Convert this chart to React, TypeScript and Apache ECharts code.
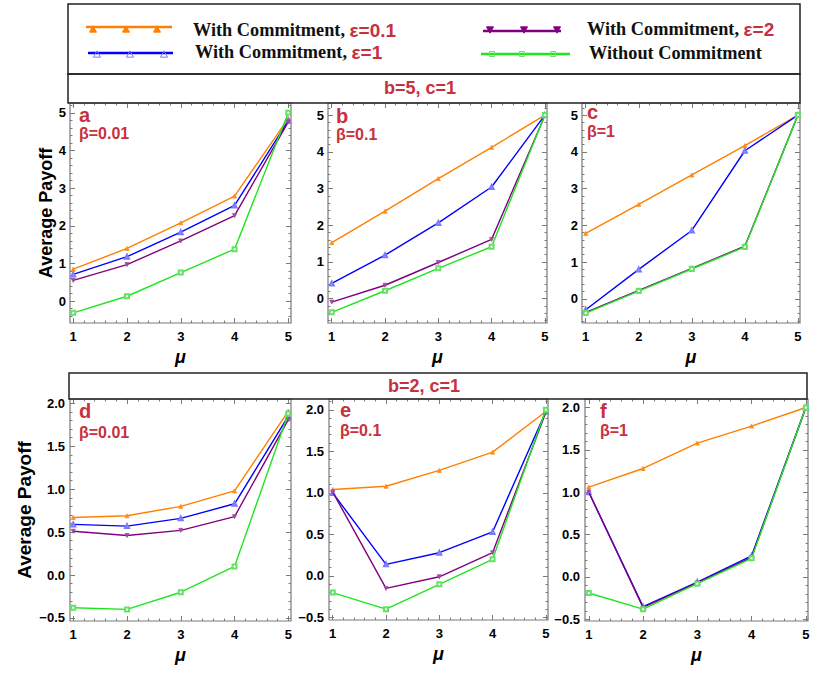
import React, { useEffect, useRef } from "react";
import * as echarts from "echarts";

// ---------- data ----------
const MU = [1, 2, 3, 4, 5];
const X_TICKS = [1, 2, 3, 4, 5];
const Y_TICKS_B5 = [0, 1, 2, 3, 4, 5];
const Y_TICKS_B2 = [-0.5, 0, 0.5, 1, 1.5, 2];

const SERIES_NAMES = [
  "With Commitment, ε=0.1",
  "With Commitment, ε=1",
  "With Commitment, ε=2",
  "Without Commitment",
];
const STRIP_LABELS = ["b=5, c=1", "b=2, c=1"];
const PANEL_LETTERS = ["a", "b", "c", "d", "e", "f"];
const PANEL_BETAS = ["β=0.01", "β=0.1", "β=1", "β=0.01", "β=0.1", "β=1"];
const Y_NAME = "Average Payoff";
const X_NAME = "μ";

// panel a (b=5, c=1, β=0.01)
const A_EPS01 = [0.85, 1.4, 2.08, 2.79, 4.85];
const A_EPS1 = [0.71, 1.18, 1.83, 2.54, 4.79];
const A_EPS2 = [0.55, 0.97, 1.6, 2.27, 4.76];
const A_NONE = [-0.31, 0.13, 0.76, 1.38, 5.0];
// panel b (b=5, c=1, β=0.1)
const B_EPS01 = [1.52, 2.38, 3.27, 4.12, 5.0];
const B_EPS1 = [0.41, 1.18, 2.06, 3.04, 5.0];
const B_EPS2 = [-0.1, 0.36, 0.98, 1.61, 4.98];
const B_NONE = [-0.38, 0.21, 0.82, 1.41, 5.0];
// panel c (b=5, c=1, β=1)
const C_EPS01 = [1.78, 2.57, 3.37, 4.17, 5.0];
const C_EPS1 = [-0.3, 0.8, 1.86, 4.03, 5.0];
const C_EPS2 = [-0.37, 0.23, 0.83, 1.43, 5.0];
const C_NONE = [-0.39, 0.21, 0.81, 1.41, 5.0];
// panel d (b=2, c=1, β=0.01)
const D_EPS01 = [0.67, 0.69, 0.8, 0.98, 1.91];
const D_EPS1 = [0.59, 0.57, 0.66, 0.83, 1.85];
const D_EPS2 = [0.51, 0.46, 0.52, 0.68, 1.81];
const D_NONE = [-0.38, -0.4, -0.2, 0.1, 1.88];
// panel e (b=2, c=1, β=0.1)
const E_EPS01 = [1.04, 1.08, 1.27, 1.49, 1.98];
const E_EPS1 = [1.0, 0.14, 0.28, 0.53, 1.98];
const E_EPS2 = [1.01, -0.15, -0.01, 0.28, 1.97];
const E_NONE = [-0.2, -0.4, -0.1, 0.2, 2.0];
// panel f (b=2, c=1, β=1)
const F_EPS01 = [1.06, 1.28, 1.58, 1.78, 2.0];
const F_EPS1 = [1.0, -0.35, -0.06, 0.25, 2.0];
const F_EPS2 = [1.0, -0.36, -0.07, 0.23, 2.0];
const F_NONE = [-0.19, -0.38, -0.08, 0.22, 2.0];

const PANEL_VALUES = [
  [A_EPS01, A_EPS1, A_EPS2, A_NONE],
  [B_EPS01, B_EPS1, B_EPS2, B_NONE],
  [C_EPS01, C_EPS1, C_EPS2, C_NONE],
  [D_EPS01, D_EPS1, D_EPS2, D_NONE],
  [E_EPS01, E_EPS1, E_EPS2, E_NONE],
  [F_EPS01, F_EPS1, F_EPS2, F_NONE],
];

// ---------- layout & style ----------
const LAYOUT = [
  { left: 70, top: 103, width: 221, height: 220, xMin: 0.94, xMax: 5.05, yMin: -0.58, yMax: 5.26, big: true, lx: 79, ly: 115, by: 133 },
  { left: 328, top: 103, width: 219, height: 220, xMin: 0.93, xMax: 5.04, yMin: -0.67, yMax: 5.33, big: true, lx: 336, ly: 116, by: 134 },
  { left: 582, top: 103, width: 218, height: 220, xMin: 0.93, xMax: 5.04, yMin: -0.66, yMax: 5.33, big: true, lx: 587, ly: 112, by: 131 },
  { left: 70, top: 399, width: 221, height: 222, xMin: 0.94, xMax: 5.05, yMin: -0.535, yMax: 2.05, big: false, lx: 79, ly: 411, by: 432 },
  { left: 329, top: 399, width: 219, height: 221, xMin: 0.93, xMax: 5.04, yMin: -0.53, yMax: 2.13, big: false, lx: 340, ly: 410, by: 430 },
  { left: 585, top: 399, width: 223, height: 222, xMin: 0.93, xMax: 5.04, yMin: -0.52, yMax: 2.1, big: false, lx: 600, ly: 411, by: 430 },
];

const RED = "#c9303e";
const FRAME = "#7a7a7a";
const SANS = "'Liberation Sans', Arial, sans-serif";
const SERIF = "'Liberation Serif', 'Times New Roman', serif";

const LINE_STYLES = [
  { color: "#ff8000", symbol: "triangle", rotate: 0, marker: "#ff8c1a" },
  { color: "#0000ff", symbol: "emptyTriangle", rotate: 0, marker: "#7a7aff" },
  { color: "#800080", symbol: "triangle", rotate: 180, marker: "#a04aa0" },
  { color: "#1ee61e", symbol: "emptyRect", rotate: 0, marker: "#66e066" },
];

function minorTicks(min: number, max: number, step: number, major: number) {
  const out: number[] = [];
  const s = Math.ceil(min / step - 1e-9);
  const e = Math.floor(max / step + 1e-9);
  for (let k = s; k <= e; k++) {
    const v = +(k * step).toFixed(4);
    const r = v / major;
    if (Math.abs(r - Math.round(r)) < 1e-6) continue;
    out.push(v);
  }
  return out;
}

function fmtInt(v: number) {
  return (v < 0 ? "−" : "") + String(Math.abs(v));
}
function fmtDec(v: number) {
  return (v < 0 ? "−" : "") + Math.abs(v).toFixed(1);
}

function makeAxis(gridIndex: number, position: string, min: number, max: number, ticks: number[], len: number, labelOpts: any) {
  return {
    type: "value",
    gridIndex,
    position,
    min,
    max,
    axisLine: { show: false, onZero: false },
    splitLine: { show: false },
    axisTick: { show: true, inside: true, length: len, customValues: ticks, lineStyle: { color: FRAME, width: 1 } },
    axisLabel: labelOpts
      ? {
          show: true,
          customValues: ticks,
          color: "#000",
          fontWeight: "bold",
          fontSize: 13,
          fontFamily: SANS,
          ...labelOpts,
        }
      : { show: false },
  };
}

function tri(cx: number, cy: number, s: number, down: boolean, fill: string, stroke: string) {
  const h = s * 0.9;
  const pts = down
    ? [[cx - s / 2, cy - h / 2], [cx + s / 2, cy - h / 2], [cx, cy + h / 2]]
    : [[cx - s / 2, cy + h / 2], [cx + s / 2, cy + h / 2], [cx, cy - h / 2]];
  return { type: "polygon", shape: { points: pts }, style: { fill, stroke, lineWidth: 1 }, z: 20 };
}

function buildOption() {
  const grid: any[] = [];
  const xAxis: any[] = [];
  const yAxis: any[] = [];
  const series: any[] = [];
  const graphic: any[] = [];

  LAYOUT.forEach((L, i) => {
    grid.push({
      left: L.left,
      top: L.top,
      width: L.width,
      height: L.height,
      show: true,
      borderColor: FRAME,
      borderWidth: 1.2,
      backgroundColor: "transparent",
      outerBoundsMode: "none",
      containLabel: false,
    });
    const xMinor = minorTicks(L.xMin, L.xMax, 0.2, 1);
    const yMajor = L.big ? Y_TICKS_B5 : Y_TICKS_B2;
    const yMinor = L.big ? minorTicks(L.yMin, L.yMax, 0.2, 1) : minorTicks(L.yMin, L.yMax, 0.1, 0.5);
    const yFmt = L.big ? fmtInt : fmtDec;

    const xMain: any = makeAxis(i, "bottom", L.xMin, L.xMax, X_TICKS, 5, { margin: 7, formatter: fmtInt });
    xMain.name = X_NAME;
    xMain.nameLocation = "middle";
    xMain.nameGap = 25;
    xMain.nameTextStyle = { fontSize: 18, fontWeight: "bold", fontStyle: "italic", fontFamily: SANS, color: "#000" };
    xAxis.push(xMain);
    xAxis.push(makeAxis(i, "bottom", L.xMin, L.xMax, xMinor, 2.5, null));
    xAxis.push(makeAxis(i, "top", L.xMin, L.xMax, X_TICKS, 5, null));
    xAxis.push(makeAxis(i, "top", L.xMin, L.xMax, xMinor, 2.5, null));

    yAxis.push(makeAxis(i, "left", L.yMin, L.yMax, yMajor, 5, { margin: L.big ? 4 : 5, formatter: yFmt }));
    yAxis.push(makeAxis(i, "left", L.yMin, L.yMax, yMinor, 2.5, null));
    yAxis.push(makeAxis(i, "right", L.yMin, L.yMax, yMajor, 5, null));
    yAxis.push(makeAxis(i, "right", L.yMin, L.yMax, yMinor, 2.5, null));

    PANEL_VALUES[i].forEach((vals, k) => {
      const st = LINE_STYLES[k];
      series.push({
        type: "line",
        name: SERIES_NAMES[k],
        xAxisIndex: i * 4,
        yAxisIndex: i * 4,
        data: MU.map((m, j) => [m, vals[j]]),
        symbol: st.symbol,
        symbolRotate: st.rotate,
        symbolSize: 4,
        showSymbol: true,
        lineStyle: { color: st.color, width: 1.4 },
        itemStyle: { color: st.marker, borderColor: st.marker, borderWidth: 0.8 },
        z: 3 + k,
      });
    });

    graphic.push({
      type: "text",
      x: L.lx,
      y: L.ly,
      style: { text: PANEL_LETTERS[i], fill: RED, fontSize: 20, fontWeight: "bold", fontFamily: SANS, verticalAlign: "middle" },
      z: 30,
    });
    graphic.push({
      type: "text",
      x: L.lx,
      y: L.by,
      style: { text: PANEL_BETAS[i], fill: RED, fontSize: 16, fontWeight: "bold", fontFamily: SANS, verticalAlign: "middle" },
      z: 30,
    });
  });

  // y-axis titles
  graphic.push({
    type: "text",
    x: 46,
    y: 213,
    rotation: Math.PI / 2,
    style: { text: Y_NAME, fill: "#000", fontSize: 18, fontWeight: "bold", fontFamily: SANS, align: "center", verticalAlign: "middle" },
  });
  graphic.push({
    type: "text",
    x: 24,
    y: 510,
    rotation: Math.PI / 2,
    style: { text: Y_NAME, fill: "#000", fontSize: 19, fontWeight: "bold", fontFamily: SANS, align: "center", verticalAlign: "middle" },
  });

  // legend box & strips
  graphic.push({ type: "rect", shape: { x: 68, y: 4, width: 732, height: 70 }, style: { fill: "none", stroke: "#222", lineWidth: 1.5 }, z: 40 });
  graphic.push({ type: "rect", shape: { x: 68, y: 74, width: 732, height: 29 }, style: { fill: "none", stroke: "#222", lineWidth: 1.5 }, z: 40 });
  graphic.push({ type: "rect", shape: { x: 69, y: 373, width: 738, height: 26 }, style: { fill: "none", stroke: "#222", lineWidth: 1.5 }, z: 40 });
  graphic.push({
    type: "text",
    x: 420,
    y: 88,
    style: { text: STRIP_LABELS[0], fill: RED, fontSize: 18, fontWeight: "bold", fontFamily: SANS, align: "center", verticalAlign: "middle" },
    z: 40,
  });
  graphic.push({
    type: "text",
    x: 424,
    y: 386,
    style: { text: STRIP_LABELS[1], fill: RED, fontSize: 18, fontWeight: "bold", fontFamily: SANS, align: "center", verticalAlign: "middle" },
    z: 40,
  });

  // legend samples
  const legendRows = [
    { x1: 86, x2: 172, y: 27, marks: [93, 126, 157], my: 29, kind: 0, tx: 193, ty: 30 },
    { x1: 88, x2: 173, y: 53, marks: [97, 130, 164], my: 54, kind: 1, tx: 195, ty: 52 },
    { x1: 483, x2: 561, y: 31, marks: [490, 524, 557], my: 30, kind: 2, tx: 587, ty: 29 },
    { x1: 481, x2: 570, y: 54, marks: [492, 522, 553], my: 54, kind: 3, tx: 589, ty: 53 },
  ];
  legendRows.forEach((r) => {
    const st = LINE_STYLES[r.kind];
    graphic.push({ type: "line", shape: { x1: r.x1, y1: r.y, x2: r.x2, y2: r.y }, style: { stroke: st.color, lineWidth: 2.6 }, z: 15 });
    r.marks.forEach((mx) => {
      if (r.kind === 0) graphic.push(tri(mx, r.my, 7, false, st.color, st.color));
      else if (r.kind === 1) graphic.push(tri(mx, r.my, 7, false, "none", st.marker));
      else if (r.kind === 2) graphic.push(tri(mx, r.my, 7, true, st.color, st.color));
      else graphic.push({ type: "rect", shape: { x: mx - 2.5, y: r.my - 2.5, width: 5, height: 5 }, style: { fill: "none", stroke: st.marker, lineWidth: 1 }, z: 20 });
    });
    const name = SERIES_NAMES[r.kind];
    const commaIdx = name.indexOf(", ");
    const text = commaIdx >= 0 ? `{a|${name.slice(0, commaIdx + 2)}}{b|${name.slice(commaIdx + 2)}}` : `{a|${name}}`;
    graphic.push({
      type: "text",
      x: r.tx,
      y: r.ty,
      style: {
        text,
        verticalAlign: "middle",
        rich: {
          a: { fontFamily: SERIF, fontWeight: "bold", fontSize: 18.3, fill: "#111", color: "#111" },
          b: { fontFamily: SANS, fontWeight: "bold", fontSize: 19, fill: RED, color: RED },
        },
      },
      z: 30,
    });
  });

  return {
    animation: false,
    backgroundColor: "#ffffff",
    grid,
    xAxis,
    yAxis,
    series,
    graphic,
  };
}

export default function App() {
  const ref = useRef<HTMLDivElement>(null);
  useEffect(() => {
    document.body.style.margin = "0";
    if (!ref.current) return;
    const chart = echarts.init(ref.current, null, { renderer: "svg" });
    chart.setOption(buildOption() as any);
    return () => chart.dispose();
  }, []);
  return <div ref={ref} style={{ position: "absolute", left: 0, top: 0, width: 830, height: 687 }} />;
}
